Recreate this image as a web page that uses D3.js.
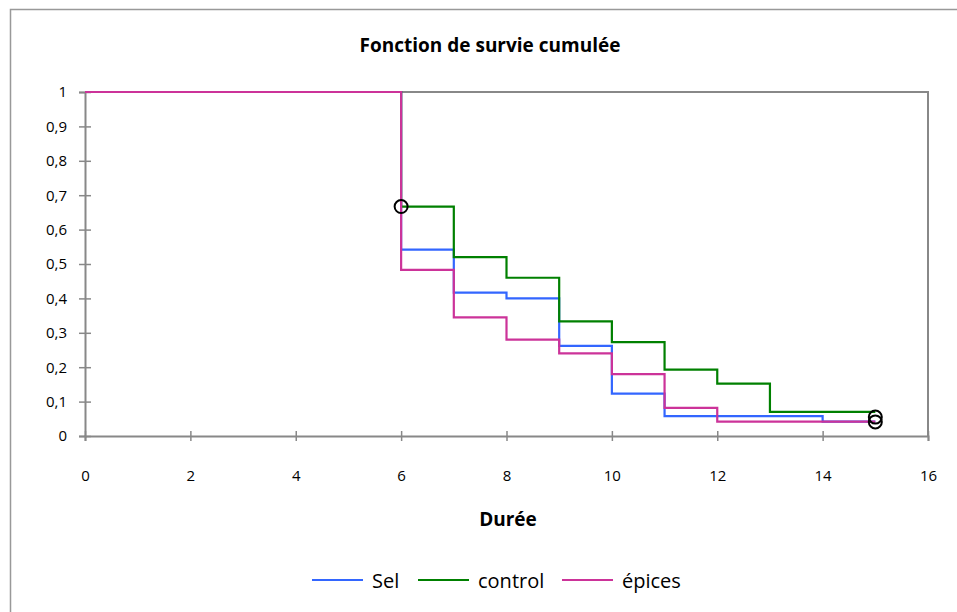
<!DOCTYPE html>
<html><head><meta charset="utf-8">
<script src="https://cdn.jsdelivr.net/npm/d3@7"></script>
<style>html,body{margin:0;padding:0;background:#fff;overflow:hidden}text{font-family:"Open Sans",Lato,sans-serif}</style>
</head><body><svg id="c" width="957" height="612"></svg>
<script>
const times   = [0, 6, 7, 8, 9, 10, 11, 12, 13, 14, 15];
const sel     = [1, 0.542, 0.417, 0.400, 0.262, 0.123, 0.058, 0.058, 0.058, 0.042, 0.042];
const control = [1, 0.667, 0.520, 0.460, 0.333, 0.273, 0.193, 0.152, 0.070, 0.070, 0.070];
const epices  = [1, 0.483, 0.345, 0.280, 0.240, 0.180, 0.082, 0.042, 0.042, 0.042, 0.042];
const seriesNames = ["Sel", "control", "épices"];
const seriesColors = ["#3366FF", "#008000", "#CC3399"];
const censoredX = [6, 15, 15];
const censoredY = [0.667, 0.055, 0.041];
const xTicks = [0, 2, 4, 6, 8, 10, 12, 14, 16];
const yTicks = [0, 0.1, 0.2, 0.3, 0.4, 0.5, 0.6, 0.7, 0.8, 0.9, 1];
const title = "Fonction de survie cumulée";
const xTitle = "Durée";

const svg = d3.select("#c");
const L = 85, R = 928, T = 92, B = 436;
const x = d3.scaleLinear().domain([0, 16]).range([L, R]);
const y = d3.scaleLinear().domain([0, 1]).range([B, T]);
const grey = "#888888";

svg.append("rect").attr("x", 10.5).attr("y", 9.5).attr("width", 980).attr("height", 700)
  .attr("fill", "#fff").attr("stroke", "#999").attr("stroke-width", 1.5);

// plot border (top/right)
svg.append("path").attr("d", `M${L},${T}H${R}V${B}`).attr("fill", "none").attr("stroke", grey).attr("stroke-width", 2);

// axes
const fmt = d => String(d).replace(".", ",");
const yAxis = svg.append("g").attr("transform", `translate(${L},0)`)
  .call(d3.axisLeft(y).tickValues(yTicks).tickFormat(fmt).tickSize(6).tickPadding(12));
const xAxis = svg.append("g").attr("transform", `translate(0,${B})`)
  .call(d3.axisBottom(x).tickValues(xTicks).tickFormat(fmt).tickSize(5).tickPadding(29));
[yAxis, xAxis].forEach(a => {
  a.attr("font-family", null).attr("font-size", null);
  a.select(".domain").attr("stroke", grey).attr("stroke-width", 2);
  a.selectAll(".tick line").attr("stroke", grey).attr("stroke-width", 1.5);
  a.selectAll(".tick text").attr("fill", "#000").style("font-size", "15px");
});
yAxis.selectAll(".tick line").attr("x1", 6);
xAxis.selectAll(".tick line").attr("y1", -5);

// series
const line = d3.line().x(d => x(d[0])).y(d => y(d[1])).curve(d3.curveStepAfter);
[sel, control, epices].forEach((vals, i) => {
  svg.append("path").datum(times.map((t, j) => [t, vals[j]]))
    .attr("d", line).attr("fill", "none").attr("stroke", seriesColors[i]).attr("stroke-width", 2.2);
});

// censored markers
svg.selectAll(".cens").data(censoredX.map((cx, i) => [cx, censoredY[i]])).enter()
  .append("circle").attr("cx", d => x(d[0])).attr("cy", d => y(d[1])).attr("r", 6.5)
  .attr("fill", "none").attr("stroke", "#000").attr("stroke-width", 2);

// titles
svg.append("text").attr("x", 490).attr("y", 52).attr("text-anchor", "middle")
  .style("font-size", "19px").attr("font-weight", "bold").text(title);
svg.append("text").attr("x", 508).attr("y", 526).attr("text-anchor", "middle")
  .style("font-size", "19px").attr("font-weight", "bold").text(xTitle);

// legend
const legX = [312, 418, 562];
seriesNames.forEach((n, i) => {
  svg.append("line").attr("x1", legX[i]).attr("x2", legX[i] + 51).attr("y1", 580).attr("y2", 580)
    .attr("stroke", seriesColors[i]).attr("stroke-width", 2);
  svg.append("text").attr("x", legX[i] + 60).attr("y", 588).style("font-size", "20px").text(n);
});
</script></body></html>
